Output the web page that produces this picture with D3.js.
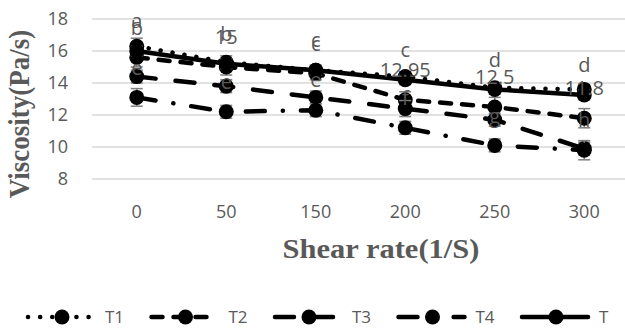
<!DOCTYPE html>
<html>
<head>
<meta charset="utf-8">
<script src="https://cdn.jsdelivr.net/npm/d3@7"></script>
<style>
  body { margin: 0; background: #fff; }
  svg { display: block; }
</style>
</head>
<body>
<div id="chart"></div>
<script>
// data
const categories = ["0", "50", "150", "200", "250", "300"];
const yTicks = [8, 10, 12, 14, 16, 18];

const t1 = [16.3, 15.3, 14.8, 14.4, 13.7, 13.6];
const t2 = [15.6, 15.0, 14.6, 12.95, 12.5, 11.8];
const t3 = [14.4, 13.8, 13.1, 12.4, 11.7, 9.9];
const t4 = [13.1, 12.2, 12.3, 11.2, 10.1, 9.8];
const tC = [16.0, 15.2, 14.8, 14.2, 13.6, 13.25];

const t1Err = [0.5, 0.4, 0.3, 0.3, 0.3, 0.3];
const t2Err = [0.6, 0.5, 0.4, 0.5, 0.6, 0.6];
const t3Err = [0.4, 0.4, 0.4, 0.5, 0.4, 0.4];
const t4Err = [0.55, 0.4, 0.4, 0.4, 0.4, 0.6];
const tCErr = [0.3, 0.3, 0.3, 0.3, 0.3, 0.3];

// data labels as they appear in the chart
const tLabels = ["a", "b", "c", "c", "d", "d"];
const t2Labels = ["b", "15", "c", "12.95", "12.5", "11.8"];
const t4Labels = ["e", "e", "e", "f", "g", "h"];

const width = 625, height = 328;
const margin = {top: 19, left: 92, right: -4, bottom: 149};

const series = [
  {name: "T1", values: t1, err: t1Err, dash: "0.1 12"},
  {name: "T2", values: t2, err: t2Err, dash: "11 11"},
  {name: "T3", values: t3, err: t3Err, dash: "19 20"},
  {name: "T4", values: t4, err: t4Err, dash: "19 18 0.1 18"},
  {name: "T", values: tC, err: tCErr, dash: null}
];

const svg = d3.select("#chart").append("svg")
  .attr("width", width)
  .attr("height", height);

const x = d3.scaleBand()
  .domain(categories)
  .range([margin.left, width - margin.right])
  .paddingInner(0).paddingOuter(0);

const y = d3.scaleLinear()
  .domain([8, 18])
  .range([height - margin.bottom, margin.top]);

const cx = c => x(c) + x.bandwidth() / 2;
const textColor = "#595959";
const font = "'Open Sans', sans-serif";

// gridlines
svg.append("g")
  .selectAll("line")
  .data(yTicks)
  .join("line")
    .attr("x1", margin.left)
    .attr("x2", width - margin.right)
    .attr("y1", d => y(d))
    .attr("y2", d => y(d))
    .attr("stroke", "#d9d9d9")
    .attr("stroke-width", 1.3);

// y tick labels
svg.append("g")
  .selectAll("text")
  .data(yTicks)
  .join("text")
    .attr("x", 68)
    .attr("y", d => y(d))
    .attr("dy", "0.36em")
    .attr("text-anchor", "end")
    .attr("font-family", font)
    .attr("font-size", 18)
    .attr("fill", textColor)
    .text(d => d);

// x tick labels
svg.append("g")
  .selectAll("text")
  .data(categories)
  .join("text")
    .attr("x", d => cx(d))
    .attr("y", 212)
    .attr("dy", "0.36em")
    .attr("text-anchor", "middle")
    .attr("font-family", font)
    .attr("font-size", 18)
    .attr("fill", textColor)
    .text(d => d);

// axis titles (the source looks stretched sideways a bit)
svg.append("text")
  .attr("transform", "translate(381,258) scale(1.13,1)")
  .attr("text-anchor", "middle")
  .attr("font-family", "'Liberation Serif', 'Times New Roman', serif")
  .attr("font-weight", "bold")
  .attr("font-size", 27)
  .attr("fill", textColor)
  .text("Shear rate(1/S)");

svg.append("text")
  .attr("transform", "translate(29,114) scale(1.13,1) rotate(-90)")
  .attr("text-anchor", "middle")
  .attr("font-family", "'Liberation Serif', 'Times New Roman', serif")
  .attr("font-weight", "bold")
  .attr("font-size", 27)
  .attr("fill", textColor)
  .text("Viscosity(Pa/s)");

const line = d3.line()
  .x((d, i) => cx(categories[i]))
  .y(d => y(d));

// each series: error bars, line, markers
series.forEach(s => {
  const g = svg.append("g");
  const eb = g.append("g")
    .selectAll("g")
    .data(s.values.map((v, i) => ({v: v, e: s.err[i], c: categories[i]})))
    .join("g")
      .attr("stroke", "#7f7f7f")
      .attr("stroke-width", 1.5);
  eb.append("line")
    .attr("x1", d => cx(d.c)).attr("x2", d => cx(d.c))
    .attr("y1", d => y(d.v - d.e)).attr("y2", d => y(d.v + d.e));
  eb.append("line")
    .attr("x1", d => cx(d.c) - 6).attr("x2", d => cx(d.c) + 6)
    .attr("y1", d => y(d.v - d.e)).attr("y2", d => y(d.v - d.e));
  eb.append("line")
    .attr("x1", d => cx(d.c) - 6).attr("x2", d => cx(d.c) + 6)
    .attr("y1", d => y(d.v + d.e)).attr("y2", d => y(d.v + d.e));

  g.append("path")
    .datum(s.values)
    .attr("d", line)
    .attr("fill", "none")
    .attr("stroke", "#000")
    .attr("stroke-width", 4.5)
    .attr("stroke-linecap", "round")
    .attr("stroke-dasharray", s.dash);

  g.append("g")
    .selectAll("circle")
    .data(s.values)
    .join("circle")
      .attr("cx", (d, i) => cx(categories[i]))
      .attr("cy", d => y(d))
      .attr("r", 7.5)
      .attr("fill", "#000");
});

// data labels, all placed above their point
function addLabels(texts, values) {
  svg.append("g")
    .selectAll("text")
    .data(texts)
    .join("text")
      .attr("x", (d, i) => cx(categories[i]))
      .attr("y", (d, i) => y(values[i]) - 30)
      .attr("dy", "0.36em")
      .attr("text-anchor", "middle")
      .attr("font-family", font)
      .attr("font-size", 20)
      .attr("fill", textColor)
      .text(d => d);
}
addLabels(tLabels, tC);
addLabels(t2Labels, t2);
addLabels(t4Labels, t4);

// legend
const legend = svg.append("g")
  .selectAll("g")
  .data(series)
  .join("g")
    .attr("transform", (d, i) => `translate(${28 + i * 123.5},317)`);

legend.append("line")
  .attr("x1", 0).attr("x2", 66)
  .attr("stroke", "#000")
  .attr("stroke-width", 4.5)
  .attr("stroke-linecap", "round")
  .attr("stroke-dasharray", d => d.dash);

legend.append("circle")
  .attr("cx", 34)
  .attr("r", 7.5)
  .attr("fill", "#000");

legend.append("text")
  .attr("x", 77)
  .attr("dy", "0.34em")
  .attr("font-family", font)
  .attr("font-size", 17)
  .attr("fill", textColor)
  .text(d => d.name);
</script>
</body>
</html>
